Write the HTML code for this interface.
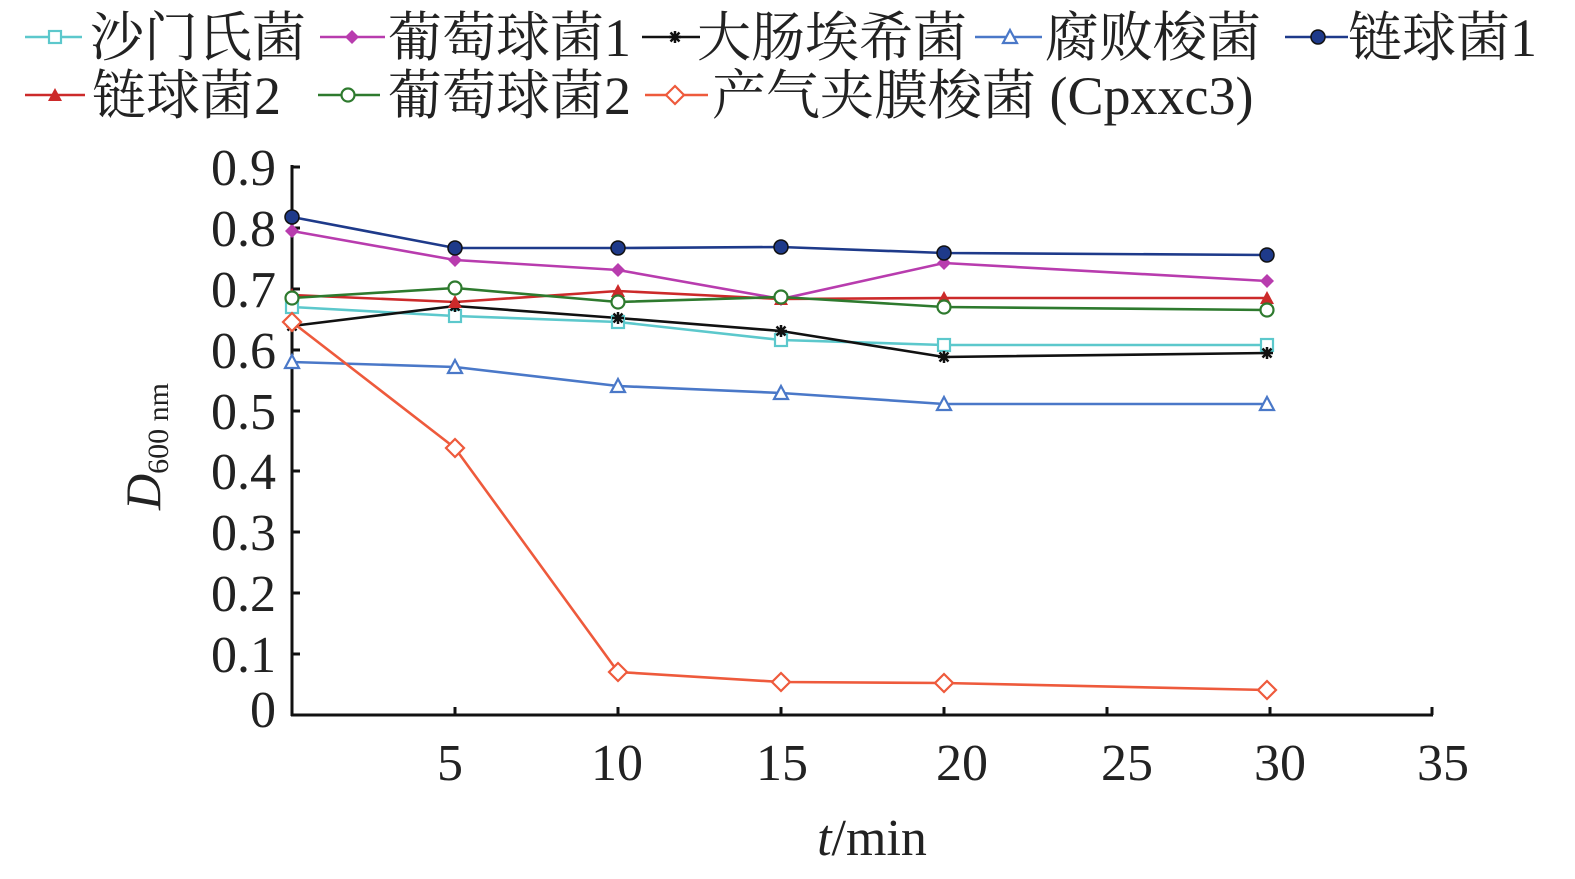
<!DOCTYPE html>
<html><head><meta charset="utf-8"><style>
html,body{margin:0;padding:0;background:#fff;}
svg{display:block;}
text{font-family:"Liberation Serif","Noto Serif CJK SC",serif;fill:#222;}
</style></head><body>
<svg width="1575" height="879" viewBox="0 0 1575 879" xmlns="http://www.w3.org/2000/svg">
<defs>
<g id="sq"><rect x="-6" y="-6" width="12" height="12" fill="#fff" stroke="#5cc8cc" stroke-width="2.2"/></g>
<g id="dm"><path d="M0,-7 L7,0 L0,7 L-7,0Z" fill="#b83cae"/></g>
<g id="ast" stroke="#111" stroke-width="2.5"><path d="M-6,0H6M0,-6V6M-4.5,-4.5L4.5,4.5M-4.5,4.5L4.5,-4.5"/></g>
<g id="tri"><path d="M0,-7 L7,6 L-7,6Z" fill="#fff" stroke="#4a78c8" stroke-width="2.2"/></g>
<g id="dot"><circle r="7" fill="#1e3a8a" stroke="#111" stroke-width="1.5"/></g>
<g id="rtri"><path d="M0,-7 L7,6 L-7,6Z" fill="#cc2a2a"/></g>
<g id="gci"><circle r="6.5" fill="#fff" stroke="#2e7a2e" stroke-width="2.2"/></g>
<g id="odm"><path d="M0,-9 L9,0 L0,9 L-9,0Z" fill="#fff" stroke="#ee5a3c" stroke-width="2.2"/></g>
</defs>

<!-- legend -->
<g font-size="54">
<line x1="25" y1="37" x2="82" y2="37" stroke="#5cc8cc" stroke-width="2.5"/><use href="#sq" x="55" y="37"/>
<text x="90" y="56">沙门氏菌</text>
<line x1="320" y1="37" x2="385" y2="37" stroke="#b83cae" stroke-width="2.5"/><use href="#dm" x="352" y="37"/>
<text x="388" y="56">葡萄球菌1</text>
<line x1="642" y1="37" x2="700" y2="37" stroke="#111" stroke-width="2.5"/><use href="#ast" x="675" y="37"/>
<text x="697" y="56">大肠埃希菌</text>
<line x1="975" y1="37" x2="1042" y2="37" stroke="#4a78c8" stroke-width="2.5"/><use href="#tri" x="1010" y="37"/>
<text x="1045" y="56">腐败梭菌</text>
<line x1="1285" y1="37" x2="1348" y2="37" stroke="#1e3a8a" stroke-width="2.5"/><use href="#dot" x="1318" y="37"/>
<text x="1348" y="56">链球菌1</text>
<line x1="25" y1="95" x2="85" y2="95" stroke="#cc2a2a" stroke-width="2.5"/><use href="#rtri" x="55" y="95"/>
<text x="92" y="114">链球菌2</text>
<line x1="318" y1="95" x2="380" y2="95" stroke="#2e7a2e" stroke-width="2.5"/><use href="#gci" x="348" y="95"/>
<text x="388" y="114">葡萄球菌2</text>
<line x1="645" y1="95" x2="708" y2="95" stroke="#ee5a3c" stroke-width="2.5"/><use href="#odm" x="675" y="95"/>
<text x="712" y="114">产气夹膜梭菌 (Cpxxc3)</text>
</g>

<!-- axes -->
<g stroke="#111" stroke-width="3" fill="none">
<line x1="292" y1="165" x2="292" y2="716"/>
<line x1="291" y1="715" x2="1433" y2="715"/>
<path d="M292,167h8M292,228h8M292,289h8M292,350h8M292,411h8M292,471h8M292,532h8M292,593h8M292,654h8"/>
<path d="M455,715v-8M618,715v-8M781,715v-8M944,715v-8M1107,715v-8M1270,715v-8M1432,715v-8"/>
</g>
<g font-size="52" text-anchor="end">
<text x="276" y="185">0.9</text><text x="276" y="246">0.8</text><text x="276" y="307">0.7</text>
<text x="276" y="368">0.6</text><text x="276" y="429">0.5</text><text x="276" y="489">0.4</text>
<text x="276" y="550">0.3</text><text x="276" y="611">0.2</text><text x="276" y="672">0.1</text>
<text x="276" y="727">0</text>
</g>
<g font-size="52" text-anchor="middle">
<text x="450" y="780">5</text><text x="617" y="780">10</text><text x="782" y="780">15</text>
<text x="962" y="780">20</text><text x="1127" y="780">25</text><text x="1280" y="780">30</text>
<text x="1443" y="780">35</text>
<text x="872" y="855"><tspan font-style="italic">t</tspan>/min</text>
</g>
<text transform="translate(160,510) rotate(-90)" font-size="50"><tspan font-style="italic">D</tspan><tspan font-size="30" dy="8">600 nm</tspan></text>

<!-- series -->
<g fill="none" stroke-width="2.6">
<polyline stroke="#5cc8cc" points="292,307 455,316 618,322 781,340 944,345 1267,345"/>
<polyline stroke="#b83cae" points="292,231 455,260 618,270 781,299 944,263 1267,281"/>
<polyline stroke="#111" points="292,326 455,306 618,318 781,331 944,357 1267,353"/>
<polyline stroke="#4a78c8" points="292,362 455,367 618,386 781,393 944,404 1267,404"/>
<polyline stroke="#1e3a8a" points="292,217 455,248 618,248 781,247 944,253 1267,255"/>
<polyline stroke="#cc2a2a" points="292,295 455,302 618,291 781,299 944,298 1267,298"/>
<polyline stroke="#2e7a2e" points="292,298 455,288 618,302 781,297 944,307 1267,310"/>
<polyline stroke="#ee5a3c" points="292,322 455,448 618,672 781,682 944,683 1267,690"/>
</g>
<g>
<use href="#sq" x="292" y="307"/><use href="#sq" x="455" y="316"/><use href="#sq" x="618" y="322"/><use href="#sq" x="781" y="340"/><use href="#sq" x="944" y="345"/><use href="#sq" x="1267" y="345"/>
<use href="#dm" x="292" y="231"/><use href="#dm" x="455" y="260"/><use href="#dm" x="618" y="270"/><use href="#dm" x="781" y="299"/><use href="#dm" x="944" y="263"/><use href="#dm" x="1267" y="281"/>
<use href="#ast" x="292" y="326"/><use href="#ast" x="455" y="306"/><use href="#ast" x="618" y="318"/><use href="#ast" x="781" y="331"/><use href="#ast" x="944" y="357"/><use href="#ast" x="1267" y="353"/>
<use href="#tri" x="292" y="362"/><use href="#tri" x="455" y="367"/><use href="#tri" x="618" y="386"/><use href="#tri" x="781" y="393"/><use href="#tri" x="944" y="404"/><use href="#tri" x="1267" y="404"/>
<use href="#dot" x="292" y="217"/><use href="#dot" x="455" y="248"/><use href="#dot" x="618" y="248"/><use href="#dot" x="781" y="247"/><use href="#dot" x="944" y="253"/><use href="#dot" x="1267" y="255"/>
<use href="#rtri" x="292" y="295"/><use href="#rtri" x="455" y="302"/><use href="#rtri" x="618" y="291"/><use href="#rtri" x="781" y="299"/><use href="#rtri" x="944" y="298"/><use href="#rtri" x="1267" y="298"/>
<use href="#gci" x="292" y="298"/><use href="#gci" x="455" y="288"/><use href="#gci" x="618" y="302"/><use href="#gci" x="781" y="297"/><use href="#gci" x="944" y="307"/><use href="#gci" x="1267" y="310"/>
<use href="#odm" x="292" y="322"/><use href="#odm" x="455" y="448"/><use href="#odm" x="618" y="672"/><use href="#odm" x="781" y="682"/><use href="#odm" x="944" y="683"/><use href="#odm" x="1267" y="690"/>
</g>
</svg>
</body></html>
